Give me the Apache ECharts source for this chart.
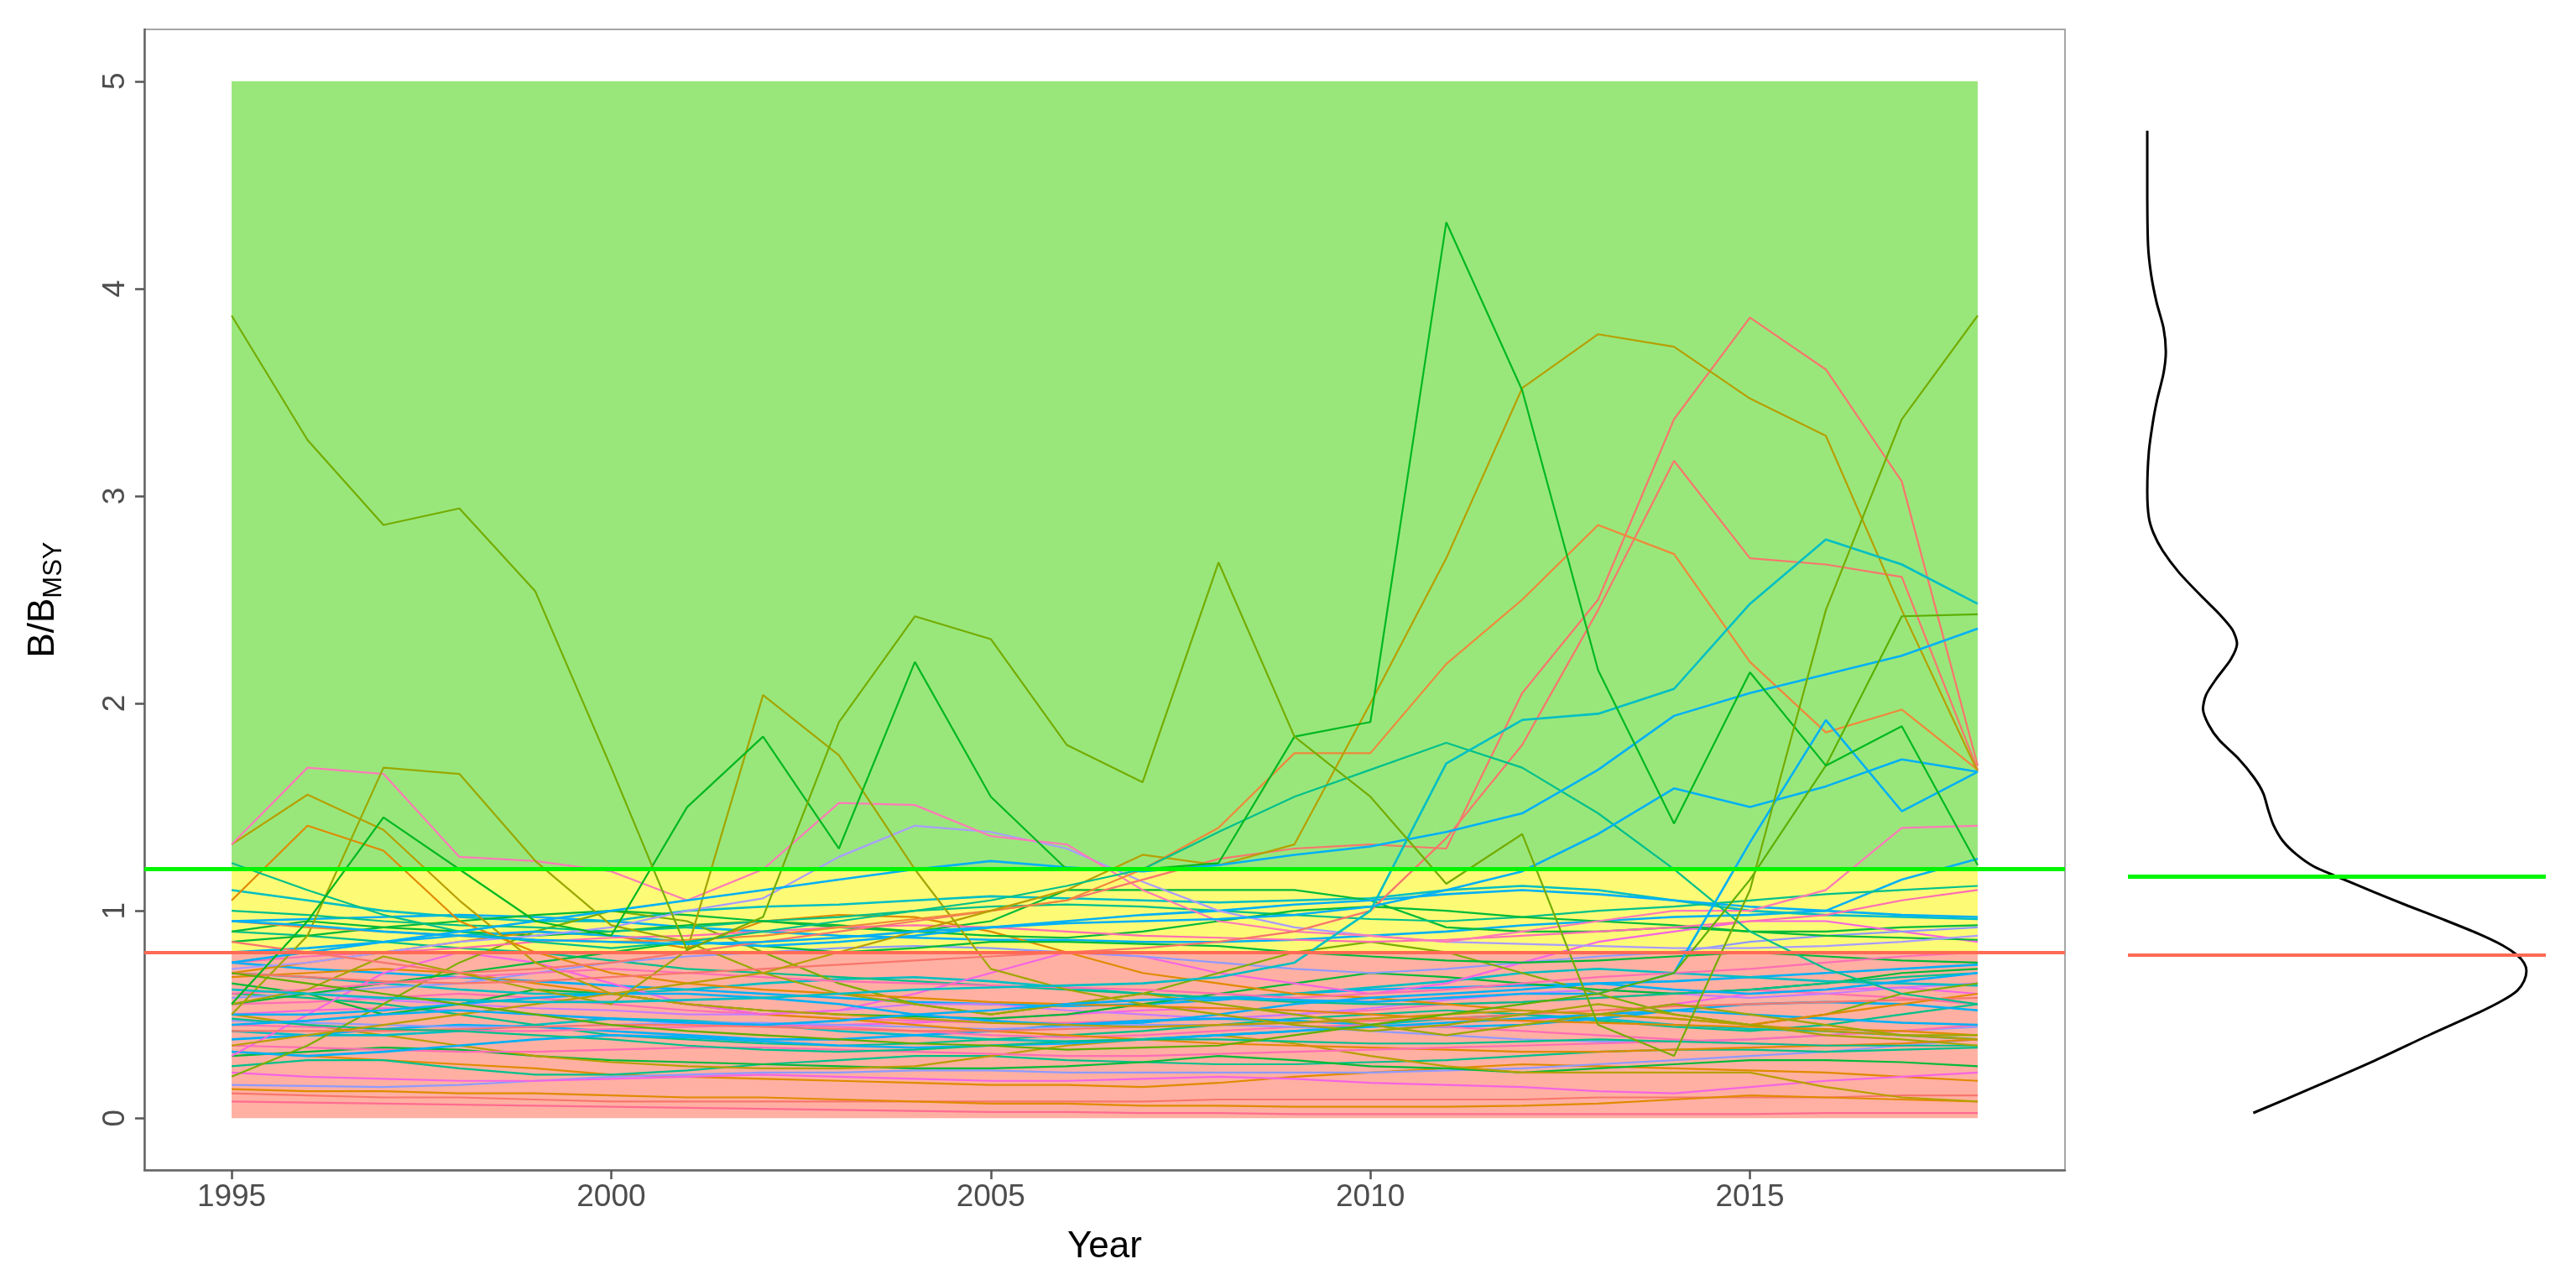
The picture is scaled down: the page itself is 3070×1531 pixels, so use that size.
<!DOCTYPE html>
<html><head><meta charset="utf-8">
<script src="https://cdn.jsdelivr.net/npm/echarts@6/dist/echarts.min.js"></script>
<style>html,body{margin:0;padding:0;background:#fff}#c{width:3070px;height:1531px}</style>
</head><body><div id="c"></div>
<script>
// ---------- data ----------
const years = [1995,1996,1997,1998,1999,2000,2001,2002,2003,2004,2005,2006,2007,2008,2009,2010,2011,2012,2013,2014,2015,2016,2017,2018];
const xTicks = [1995,2000,2005,2010,2015];
const yTicks = [0,1,2,3,4,5];
const targetLevel = 1.2;
const limitLevel = 0.8;
const zoneTop = 5;

// high / prominent stocks
const olA = [3.87,3.27,2.86,2.94,2.54,1.69,0.81,0.97,1.91,2.42,2.31,1.80,1.62,2.68,1.84,1.55,1.13,1.37,0.45,0.30,1.10,2.45,3.37,3.87];
const olB = [0.55,0.62,0.78,0.70,0.62,0.55,0.81,2.04,1.75,1.20,0.72,0.62,0.55,0.50,0.45,0.42,0.45,0.50,0.55,0.50,0.45,0.40,0.38,0.35];
const olC = [0.50,0.88,1.69,1.66,1.24,0.93,0.85,0.70,0.60,0.55,0.50,0.55,0.60,0.55,0.50,0.45,0.40,0.45,0.50,0.55,0.50,0.45,0.40,0.40];
const grA = [0.55,0.95,1.45,1.20,0.95,0.88,1.50,1.84,1.30,2.20,1.55,1.20,1.20,1.23,1.84,1.91,4.32,3.51,2.16,1.42,2.15,1.70,1.89,1.22];
const grB = [0.70,0.65,0.60,0.55,0.50,0.45,0.42,0.40,0.38,0.36,0.35,0.33,0.34,0.35,0.40,0.45,0.50,0.55,0.60,0.70,1.15,1.70,2.42,2.43];
const brA = [0.35,0.40,0.45,0.50,0.55,0.60,0.65,0.70,0.80,0.90,1.00,1.10,1.27,1.22,1.32,2.00,2.70,3.52,3.78,3.72,3.47,3.29,2.45,1.67];
const saA = [0.85,0.80,0.75,0.70,0.72,0.75,0.80,0.85,0.90,0.95,1.00,1.05,1.15,1.25,1.30,1.32,1.30,2.05,2.50,3.37,3.86,3.61,3.07,1.70];
const saB = [0.70,0.68,0.66,0.65,0.66,0.68,0.70,0.72,0.74,0.76,0.78,0.80,0.82,0.85,0.90,1.00,1.35,1.80,2.45,3.17,2.70,2.67,2.61,1.68];
const orA = [0.95,0.92,0.90,0.88,0.86,0.85,0.86,0.88,0.92,0.96,1.00,1.05,1.20,1.40,1.76,1.76,2.19,2.50,2.86,2.72,2.20,1.86,1.97,1.68];
const teA = [0.62,0.60,0.58,0.57,0.56,0.56,0.57,0.58,0.60,0.62,0.63,0.64,0.65,0.68,0.75,1.00,1.71,1.92,1.95,2.07,2.48,2.79,2.67,2.48];
const teB = [1.23,1.10,0.98,0.90,0.85,0.82,0.85,0.90,0.95,1.00,1.05,1.12,1.20,1.38,1.55,1.68,1.81,1.69,1.47,1.20,0.90,0.72,0.60,0.55];
const blA = [0.75,0.80,0.85,0.90,0.95,1.00,1.05,1.10,1.15,1.20,1.24,1.21,1.19,1.22,1.27,1.31,1.38,1.47,1.68,1.94,2.05,2.14,2.23,2.36];
const blB = [0.45,0.47,0.50,0.52,0.50,0.48,0.46,0.45,0.47,0.50,0.52,0.55,0.57,0.58,0.57,0.56,0.58,0.60,0.60,0.70,1.33,1.92,1.48,1.67];
const blC = [0.95,0.93,0.90,0.88,0.86,0.85,0.84,0.85,0.87,0.90,0.92,0.94,0.95,0.96,0.98,1.02,1.10,1.19,1.37,1.59,1.50,1.60,1.73,1.67];
const pkA = [1.32,1.69,1.66,1.26,1.24,1.19,1.05,1.20,1.52,1.51,1.36,1.32,1.10,0.95,0.90,0.88,0.85,0.90,0.95,1.00,1.00,1.10,1.40,1.41];
const obA = [1.32,1.56,1.39,1.05,0.75,0.60,0.55,0.52,0.50,0.48,0.46,0.45,0.44,0.45,0.46,0.48,0.50,0.52,0.50,0.48,0.45,0.42,0.40,0.38];
const orB = [1.05,1.41,1.29,0.95,0.80,0.70,0.65,0.62,0.60,0.58,0.56,0.55,0.54,0.53,0.52,0.50,0.48,0.47,0.46,0.45,0.44,0.43,0.42,0.40];
const lvA = [0.72,0.75,0.80,0.85,0.88,0.92,1.00,1.06,1.26,1.41,1.38,1.30,1.14,1.00,0.92,0.88,0.85,0.84,0.83,0.82,0.82,0.83,0.85,0.88];

// lower stocks
const lo01 = [0.12,0.11,0.10,0.10,0.09,0.08,0.08,0.08,0.08,0.08,0.08,0.08,0.08,0.09,0.09,0.09,0.09,0.09,0.10,0.10,0.10,0.10,0.11,0.11];
const lo02 = [0.08,0.075,0.07,0.065,0.06,0.055,0.05,0.045,0.04,0.035,0.03,0.03,0.025,0.025,0.02,0.02,0.02,0.02,0.02,0.02,0.02,0.025,0.025,0.025];
const lo03 = [0.14,0.13,0.13,0.12,0.12,0.11,0.10,0.10,0.09,0.08,0.07,0.07,0.06,0.06,0.055,0.055,0.055,0.06,0.07,0.09,0.11,0.10,0.09,0.08];
const lo04 = [0.32,0.30,0.28,0.26,0.24,0.21,0.20,0.19,0.18,0.17,0.16,0.16,0.15,0.17,0.20,0.22,0.24,0.26,0.25,0.24,0.23,0.22,0.20,0.18];
const lo05 = [0.16,0.155,0.15,0.16,0.18,0.20,0.21,0.22,0.22,0.23,0.23,0.22,0.22,0.22,0.22,0.22,0.23,0.24,0.26,0.28,0.30,0.32,0.35,0.38];
const lo06 = [0.25,0.28,0.28,0.24,0.21,0.21,0.23,0.26,0.28,0.30,0.30,0.28,0.27,0.26,0.26,0.27,0.28,0.30,0.32,0.33,0.33,0.32,0.33,0.34];
const lo07 = [0.22,0.20,0.19,0.18,0.18,0.19,0.20,0.21,0.20,0.19,0.18,0.18,0.19,0.20,0.19,0.17,0.16,0.15,0.13,0.12,0.15,0.18,0.20,0.22];
const lo08 = [0.30,0.32,0.34,0.33,0.30,0.28,0.27,0.26,0.25,0.24,0.24,0.25,0.27,0.30,0.28,0.25,0.24,0.22,0.24,0.26,0.28,0.28,0.27,0.25];
const lo09 = [0.50,0.45,0.40,0.35,0.30,0.27,0.25,0.24,0.24,0.25,0.30,0.35,0.38,0.40,0.36,0.30,0.25,0.22,0.22,0.22,0.22,0.15,0.10,0.08];
const lo10 = [0.75,0.72,0.70,0.68,0.66,0.64,0.62,0.60,0.58,0.56,0.55,0.54,0.55,0.57,0.60,0.62,0.63,0.64,0.65,0.66,0.68,0.70,0.72,0.74];
const lo11 = [0.55,0.56,0.58,0.60,0.58,0.55,0.52,0.50,0.48,0.47,0.46,0.46,0.47,0.48,0.50,0.52,0.55,0.56,0.58,0.60,0.62,0.60,0.58,0.55];
const lo12 = [0.50,0.52,0.53,0.52,0.50,0.48,0.46,0.45,0.45,0.46,0.48,0.50,0.52,0.53,0.52,0.50,0.48,0.47,0.50,0.55,0.60,0.62,0.63,0.60];
const lo13 = [0.42,0.40,0.40,0.42,0.45,0.48,0.47,0.45,0.42,0.40,0.38,0.37,0.38,0.40,0.42,0.45,0.48,0.50,0.48,0.45,0.43,0.42,0.40,0.38];
const lo14 = [0.62,0.60,0.57,0.55,0.53,0.52,0.50,0.50,0.52,0.55,0.55,0.52,0.50,0.48,0.50,0.53,0.57,0.60,0.62,0.60,0.58,0.60,0.63,0.65];
const lo15 = [0.60,0.58,0.55,0.50,0.45,0.40,0.38,0.36,0.35,0.36,0.38,0.40,0.42,0.45,0.48,0.50,0.52,0.50,0.47,0.44,0.42,0.45,0.50,0.55];
const lo16 = [0.38,0.40,0.43,0.45,0.44,0.42,0.40,0.38,0.38,0.40,0.42,0.45,0.47,0.48,0.47,0.45,0.44,0.45,0.48,0.52,0.55,0.56,0.55,0.52];
const lo17 = [0.45,0.44,0.43,0.42,0.42,0.43,0.44,0.45,0.44,0.42,0.40,0.39,0.40,0.42,0.44,0.45,0.44,0.42,0.40,0.38,0.36,0.35,0.36,0.38];
const lo18 = [0.47,0.46,0.45,0.44,0.44,0.45,0.46,0.46,0.45,0.44,0.43,0.44,0.45,0.45,0.44,0.42,0.40,0.38,0.37,0.37,0.38,0.40,0.42,0.44];
const lo19 = [0.65,0.60,0.50,0.55,0.62,0.60,0.55,0.52,0.50,0.49,0.48,0.50,0.55,0.60,0.65,0.70,0.68,0.65,0.62,0.60,0.62,0.65,0.70,0.72];
const lo20 = [0.70,0.68,0.65,0.62,0.60,0.60,0.62,0.65,0.67,0.68,0.66,0.63,0.60,0.58,0.60,0.63,0.66,0.70,0.72,0.70,0.68,0.66,0.65,0.64];
const lo21 = [0.68,0.70,0.72,0.70,0.65,0.60,0.55,0.50,0.48,0.45,0.42,0.40,0.38,0.36,0.35,0.34,0.33,0.32,0.32,0.33,0.34,0.35,0.36,0.38];
const lo22 = [0.35,0.34,0.33,0.32,0.32,0.33,0.34,0.34,0.33,0.32,0.31,0.30,0.30,0.31,0.32,0.33,0.34,0.35,0.36,0.37,0.38,0.40,0.42,0.45];
const lo23 = [0.32,0.30,0.32,0.35,0.38,0.40,0.39,0.37,0.35,0.34,0.35,0.36,0.38,0.40,0.42,0.44,0.46,0.48,0.50,0.52,0.50,0.48,0.46,0.45];
const lo24 = [0.90,0.88,0.85,0.82,0.80,0.76,0.72,0.70,0.68,0.66,0.64,0.62,0.60,0.58,0.56,0.55,0.55,0.56,0.58,0.60,0.62,0.65,0.68,0.70];
const lo25 = [0.95,0.96,0.97,0.98,0.97,0.95,0.92,0.90,0.88,0.87,0.86,0.86,0.85,0.85,0.86,0.88,0.90,0.93,0.95,0.97,0.98,1.00,1.15,1.25];
const lo26 = [1.10,1.05,1.00,0.97,0.95,0.95,1.00,1.02,1.03,1.05,1.07,1.06,1.05,1.04,1.05,1.06,1.10,1.12,1.10,1.05,1.00,0.98,0.97,0.96];
const lo27 = [0.90,0.95,0.92,0.90,0.88,0.90,0.93,0.95,0.93,0.90,0.95,1.10,1.10,1.10,1.10,1.05,0.92,0.90,0.90,0.92,0.90,0.90,0.92,0.93];
const lo28 = [0.30,0.50,0.70,0.80,0.75,0.65,0.55,0.50,0.52,0.60,0.70,0.80,0.78,0.70,0.65,0.60,0.65,0.75,0.85,0.90,0.95,0.95,0.90,0.85];
const lo29 = [0.58,0.60,0.63,0.65,0.70,0.75,0.78,0.80,0.82,0.83,0.82,0.80,0.78,0.75,0.72,0.70,0.72,0.75,0.78,0.80,0.85,0.88,0.90,0.92];
const lo30 = [0.20,0.35,0.55,0.75,0.90,1.00,0.95,0.80,0.65,0.55,0.50,0.55,0.60,0.70,0.80,0.85,0.80,0.70,0.60,0.50,0.45,0.50,0.60,0.65];
const lo31 = [0.70,0.75,0.80,0.85,0.90,0.88,0.82,0.95,0.98,0.97,0.90,0.80,0.70,0.65,0.60,0.58,0.55,0.52,0.50,0.48,0.45,0.50,0.55,0.60];
const lo32 = [0.55,0.60,0.65,0.70,0.75,0.80,0.85,0.83,0.80,0.82,0.85,0.85,0.84,0.83,0.80,0.78,0.76,0.75,0.76,0.78,0.80,0.78,0.76,0.75];
const lo33 = [0.50,0.50,0.52,0.55,0.58,0.60,0.60,0.58,0.55,0.50,0.47,0.45,0.46,0.50,0.55,0.58,0.60,0.62,0.65,0.62,0.60,0.62,0.66,0.70];
const lo34 = [0.60,0.62,0.65,0.68,0.70,0.72,0.70,0.68,0.66,0.65,0.64,0.63,0.62,0.60,0.58,0.60,0.62,0.65,0.68,0.70,0.72,0.75,0.78,0.80];
const lo35 = [0.42,0.42,0.42,0.43,0.44,0.45,0.45,0.44,0.43,0.42,0.42,0.43,0.44,0.45,0.46,0.47,0.48,0.50,0.52,0.54,0.55,0.56,0.57,0.58];
const lo36 = [0.48,0.45,0.43,0.42,0.40,0.38,0.35,0.33,0.32,0.33,0.35,0.37,0.38,0.38,0.37,0.36,0.36,0.37,0.38,0.37,0.36,0.35,0.35,0.35];
const lo37 = [1.00,0.98,0.95,0.93,0.92,0.90,0.92,0.95,0.97,1.00,1.02,1.03,1.02,1.00,0.98,0.96,0.95,0.97,1.00,1.02,1.05,1.08,1.10,1.12];
const lo38 = [0.85,0.88,0.92,0.95,0.98,1.00,0.98,0.95,0.92,0.90,0.88,0.87,0.90,0.95,1.00,1.02,1.00,0.97,0.95,0.93,0.90,0.88,0.87,0.86];
const lo39 = [0.80,0.82,0.85,0.88,0.90,0.88,0.85,0.83,0.85,0.88,0.92,0.95,0.98,1.00,1.03,1.05,1.08,1.10,1.08,1.05,1.02,1.00,0.98,0.97];
const lo40 = [0.75,0.78,0.80,0.82,0.85,0.87,0.88,0.90,0.92,0.93,0.92,0.90,0.88,0.87,0.86,0.85,0.86,0.88,0.90,0.92,0.95,0.98,1.05,1.10];

// density of B/BMSY (right panel): level and density
const densityLevel = [4.98,4.70,4.40,4.25,4.11,3.98,3.86,3.75,3.62,3.52,3.35,3.15,3.02,2.94,2.85,2.74,2.62,2.53,2.45,2.38,2.30,2.20,2.12,2.05,1.97,1.89,1.80,1.70,1.62,1.54,1.46,1.38,1.31,1.25,1.20,1.12,1.05,0.98,0.91,0.85,0.80,0.76,0.72,0.67,0.62,0.57,0.51,0.40,0.26,0.13,0.00];
const densityValue = [0.025,0.025,0.026,0.030,0.037,0.046,0.049,0.046,0.038,0.033,0.027,0.025,0.027,0.033,0.045,0.066,0.095,0.118,0.135,0.141,0.133,0.114,0.101,0.097,0.104,0.118,0.142,0.163,0.175,0.181,0.188,0.200,0.218,0.240,0.269,0.318,0.362,0.408,0.452,0.484,0.503,0.512,0.515,0.512,0.503,0.484,0.454,0.392,0.316,0.240,0.162];

// ---------- styling (separate from data) ----------
const C = {
  salmon:'#F8766D', orange:'#E08A00', olive:'#B79F00', khaki:'#A3A500', olgreen:'#7CAE00',
  green:'#00BA38', tgreen:'#00C08B', teal:'#00BFC4', blue:'#00B0F6', peri:'#8F9AFF',
  lav:'#C77CFF', mag:'#F564E3', pink:'#FF6EB4'
};
const seriesSpec = [
  [lo01,C.salmon],[lo02,'#FF6C91'],[lo03,C.orange],[lo04,C.orange],[lo05,C.peri],[lo06,C.tgreen],
  [lo07,C.mag],[lo08,C.green],[lo09,C.olive],[lo10,C.blue],[lo11,C.pink],[lo12,C.mag],
  [lo13,C.teal],[lo14,C.lav],[lo15,C.tgreen],[lo16,C.blue],[lo17,C.pink],[lo18,C.peri],
  [lo19,C.green],[lo20,C.teal],[lo21,C.orange],[lo22,C.pink],[lo23,C.blue],[lo24,C.tgreen],
  [lo25,C.blue],[lo26,C.teal],[lo27,C.green],[lo28,C.mag],[lo29,C.peri],[lo30,C.olgreen],
  [lo31,C.orange],[lo32,C.green],[lo33,C.blue],[lo34,C.pink],[lo35,C.salmon],[lo36,C.tgreen],
  [lo37,C.tgreen],[lo38,C.green],[lo39,C.blue],[lo40,C.pink],
  [obA,C.olive],[orB,C.orange],[lvA,'#A99CFF'],[pkA,'#FF7AB8'],[olC,'#9AA800'],[olB,C.khaki],
  [saB,C.salmon],[saA,C.salmon],[orA,'#F0883A'],[brA,C.olive],[teB,C.tgreen],[blC,C.blue],
  [blB,C.blue],[blA,C.blue],[teA,C.teal],[grB,'#5DAF00'],[grA,'#00B81F'],[olA,'#74AC00']
];

const FONT = '"Liberation Sans", Arial, Helvetica, sans-serif';
const series = [];

// zone bands
series.push({
  type:'line', xAxisIndex:0, yAxisIndex:0, data:[], z:1, silent:true,
  markArea:{ silent:true, data:[
    [{xAxis:years[0], yAxis:0, itemStyle:{color:'#FFB0A2'}},{xAxis:years[years.length-1], yAxis:limitLevel}],
    [{xAxis:years[0], yAxis:limitLevel, itemStyle:{color:'#FDFA76'}},{xAxis:years[years.length-1], yAxis:targetLevel}],
    [{xAxis:years[0], yAxis:targetLevel, itemStyle:{color:'#99E77B'}},{xAxis:years[years.length-1], yAxis:zoneTop}]
  ]}
});

seriesSpec.forEach(([vals,col])=>{
  series.push({
    type:'line', xAxisIndex:0, yAxisIndex:0, z:2, silent:true,
    showSymbol:false, symbol:'none',
    lineStyle:{color:col, width:(col===C.teal||col===C.blue)?2.6:2.2},
    data: years.map((y,k)=>[y, vals[k]])
  });
});

// reference lines main panel
series.push({
  type:'line', xAxisIndex:0, yAxisIndex:0, data:[], z:5, silent:true,
  markLine:{ silent:true, symbol:'none', label:{show:false},
    data:[
      {yAxis:targetLevel, lineStyle:{color:'#00F500', width:5, type:'solid'}},
      {yAxis:limitLevel, lineStyle:{color:'#FF6A55', width:4, type:'solid'}}
    ]}
});

// density panel
series.push({
  type:'line', xAxisIndex:1, yAxisIndex:1, z:3, silent:true,
  showSymbol:false, symbol:'none', smooth:0.25,
  lineStyle:{color:'#000', width:3},
  data: densityLevel.map((lv,k)=>[densityValue[k], lv]),
  markLine:{ silent:true, symbol:'none', label:{show:false},
    data:[
      {yAxis:targetLevel, lineStyle:{color:'#00F500', width:5, type:'solid'}},
      {yAxis:limitLevel, lineStyle:{color:'#FF6A55', width:4, type:'solid'}}
    ]}
});

const chart = echarts.init(document.getElementById('c'), null, {renderer:'canvas'});
chart.setOption({
  animation:false,
  backgroundColor:'#fff',
  textStyle:{fontFamily:FONT},
  grid:[
    {left:172, right:609, top:35, bottom:137, show:true, borderColor:'#A6A6A6', borderWidth:2, backgroundColor:'transparent'},
    {left:2536, width:498, top:104, height:1269, show:false}
  ],
  xAxis:[
    {type:'value', gridIndex:0, min:1993.85, max:2019.15,
     name:'Year', nameLocation:'middle', nameGap:70,
     nameTextStyle:{fontSize:44, color:'#000', fontFamily:FONT},
     axisLine:{show:true, onZero:false, lineStyle:{color:'#666', width:2.5}},
     axisTick:{show:true, length:11, lineStyle:{color:'#555', width:2.5}, customValues:xTicks},
     axisLabel:{fontSize:37, color:'#4D4D4D', margin:14, fontFamily:FONT, customValues:xTicks,
       formatter:(v)=>String(Math.round(v))},
     splitLine:{show:false}},
    {type:'value', gridIndex:1, min:0, max:0.54, show:false}
  ],
  yAxis:[
    {type:'value', gridIndex:0, min:-0.25, max:5.25,
     name:'{b|B/B}{s|MSY}', nameLocation:'middle', nameGap:92, nameRotate:90,
     nameTextStyle:{color:'#000', fontFamily:FONT,
       rich:{ b:{fontSize:44, color:'#000', fontFamily:FONT, lineHeight:50, verticalAlign:'top'},
              s:{fontSize:31, color:'#000', fontFamily:FONT, lineHeight:36, padding:[22,0,0,0], verticalAlign:'bottom'} }},
     axisLine:{show:true, onZero:false, lineStyle:{color:'#666', width:2.5}},
     axisTick:{show:true, length:11, lineStyle:{color:'#555', width:2.5}, customValues:yTicks},
     axisLabel:{fontSize:37, color:'#4D4D4D', rotate:90, margin:16, fontFamily:FONT, customValues:yTicks,
       formatter:(v)=>String(Math.round(v))},
     splitLine:{show:false}},
    {type:'value', gridIndex:1, min:-0.2, max:5.2, show:false}
  ],
  series: series
});
</script>
</body></html>
